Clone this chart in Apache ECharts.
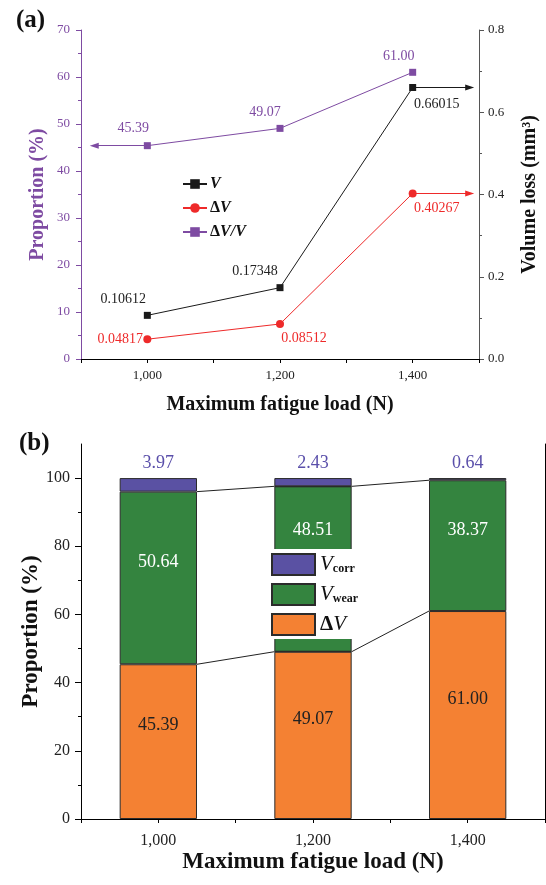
<!DOCTYPE html>
<html>
<head>
<meta charset="utf-8">
<script src="https://cdn.jsdelivr.net/npm/echarts@6/dist/echarts.min.js"></script>
<style>
  html, body { margin: 0; padding: 0; background: #fff; }
  #chart { width: 546px; height: 885px; }
</style>
</head>
<body>
<div id="chart"></div>
<script>
// ---- data ----
// Maximum fatigue load (N)
const loads = [1000, 1200, 1400];

// (a) volume loss (mm^3)
const volumeV = [0.10612, 0.17348, 0.66015];
const volumeDeltaV = [0.04817, 0.08512, 0.40267];
// (a) ΔV / V proportion (%)
const ratioDeltaV = [45.39, 49.07, 61.00];

// (b) composition of the total loss (%)
const shareDeltaV = [45.39, 49.07, 61.00];
const shareWear = [50.64, 48.51, 38.37];
const shareCorr = [3.97, 2.43, 0.64];

// tick values
const loadTickLabels = [1000, 1200, 1400];
const loadTicks = [900, 1000, 1100, 1200, 1300, 1400, 1500];
const propMajorB = [0, 20, 40, 60, 80, 100];
const propMinorB = [10, 30, 50, 70, 90];

// ---- styling / layout ----
const SERIF = '"Liberation Serif", "Times New Roman", serif';
const PURPLE = '#7E4BA2';
const RED = '#EE2A2A';
const BLACK = '#1a1a1a';
const BAR_ORANGE = '#F48133';
const BAR_GREEN = '#34843F';
const BAR_PURPLE = '#5A51A3';
const LABEL_PURPLE = '#5A4FAA';
const X_MIN = 900, X_MAX = 1500;
const ARROW_RIGHT = 1486, ARROW_LEFT = 920;
const BAR_HALF = 50;

// label offsets (px) for the point labels in (a)
const offV = [[-24, -16], [-25, -16], [24, 17]];
const offDV = [[-27, 0], [24, 14], [24, 15]];
const offRatio = [[-14, -17], [-15, -16], [-14, -16]];
// label offsets (px) for the bar labels in (b)
const offWear = [[0, -16], [0, -39], [0, -15]];

const fmtLoad = v => String(v).replace(/\B(?=(\d{3})+(?!\d))/g, ',');

function pointData(ys, offs) {
  return loads.map((x, i) => ({ value: [x, ys[i]], label: { offset: offs[i] } }));
}

function arrowLine(color, from, to) {
  return {
    silent: true,
    symbol: ['none', 'triangle'],
    symbolSize: [6, 9],
    lineStyle: { color: color, width: 1, type: 'solid' },
    label: { show: false },
    emphasis: { disabled: true },
    data: [[{ coord: from }, { coord: to }]]
  };
}

// cumulative tops of the stacked segments, used for the connector lines
const topDeltaV = shareDeltaV.slice();
const topWear = shareDeltaV.map((v, i) => v + shareWear[i]);
function connector(tops) {
  const pts = [];
  loads.forEach((x, i) => {
    pts.push([x - BAR_HALF, tops[i]]);
    pts.push([x + BAR_HALF, tops[i]]);
  });
  return pts.slice(1, -1);
}

const tickLabel = (color, size, margin) => ({
  color: color, fontSize: size, fontFamily: SERIF, margin: margin
});

const option = {
  backgroundColor: '#fff',
  animation: false,
  textStyle: { fontFamily: SERIF },
  grid: [
    { left: 81, right: 67, top: 30, height: 329, outerBoundsMode: 'none' },
    { left: 81, right: 1, top: 444, height: 375, outerBoundsMode: 'none' }
  ],
  graphic: [
    { type: 'text', left: 16, top: 8, style: { text: '(a)', font: 'bold 25px ' + SERIF, fill: '#111' } },
    { type: 'text', left: 19, top: 431, style: { text: '(b)', font: 'bold 25px ' + SERIF, fill: '#111' } }
  ],
  legend: [
    {
      data: ['V', 'ΔV', 'ΔV/V'],
      orient: 'vertical',
      left: 182, top: 176,
      itemWidth: 24, itemHeight: 12, itemGap: 8,
      padding: 0,
      selectedMode: false,
      formatter: name => ({ 'V': '{bi|V}', 'ΔV': '{b|Δ}{bi|V}', 'ΔV/V': '{b|Δ}{bi|V/V}' })[name],
      textStyle: {
        padding: [0, 0, 0, -2],
        rich: {
          b: { fontFamily: SERIF, fontWeight: 'bold', fontSize: 16, color: '#111' },
          bi: { fontFamily: SERIF, fontWeight: 'bold', fontStyle: 'italic', fontSize: 16, color: '#111' }
        }
      }
    },
    {
      data: ['Vcorr', 'Vwear', 'ΔVshare'],
      orient: 'vertical',
      left: 265, top: 549,
      icon: 'rect',
      itemWidth: 43, itemHeight: 21, itemGap: 7,
      padding: [4, 10, 3, 6],
      backgroundColor: '#fff',
      selectedMode: false,
      formatter: name => ({ 'Vcorr': '{v|V}{s|corr}', 'Vwear': '{v|V}{s|wear}', 'ΔVshare': '{d|Δ}{v|V}' })[name],
      textStyle: {
        rich: {
          v: { fontFamily: SERIF, fontStyle: 'italic', fontSize: 21, lineHeight: 21, color: '#111' },
          d: { fontFamily: SERIF, fontWeight: 'bold', fontSize: 21, lineHeight: 21, color: '#111' },
          s: { fontFamily: SERIF, fontWeight: 'bold', fontSize: 12, lineHeight: 10, verticalAlign: 'bottom', color: '#111' }
        }
      }
    }
  ],
  xAxis: [
    { // (a) load axis
      type: 'value', gridIndex: 0, min: X_MIN, max: X_MAX, interval: 100, position: 'bottom',
      axisLine: { lineStyle: { color: '#000', width: 1 } },
      axisTick: { length: 4, customValues: loadTicks, lineStyle: { color: '#000' } },
      axisLabel: Object.assign(tickLabel('#222', 13, 10), { customValues: loadTickLabels, formatter: fmtLoad }),
      splitLine: { show: false },
      name: 'Maximum fatigue load (N)', nameLocation: 'middle', nameGap: 36, nameMoveOverlap: false,
      nameTextStyle: { fontFamily: SERIF, fontWeight: 'bold', fontSize: 20, color: '#111' }
    },
    { // (a) top frame
      type: 'value', gridIndex: 0, min: X_MIN, max: X_MAX, position: 'top',
      axisLine: { lineStyle: { color: '#000', width: 1 } },
      axisTick: { show: false }, axisLabel: { show: false }, splitLine: { show: false }
    },
    { // (b) load axis
      type: 'value', gridIndex: 1, min: X_MIN, max: X_MAX, interval: 100, position: 'bottom',
      axisLine: { lineStyle: { color: '#000', width: 1 } },
      axisTick: { length: 4, customValues: loadTicks, lineStyle: { color: '#000' } },
      axisLabel: Object.assign(tickLabel('#222', 16, 14), { customValues: loadTickLabels, formatter: fmtLoad }),
      splitLine: { show: false },
      name: 'Maximum fatigue load (N)', nameLocation: 'middle', nameGap: 32, nameMoveOverlap: false,
      nameTextStyle: { fontFamily: SERIF, fontWeight: 'bold', fontSize: 23, color: '#111' }
    },
    { // (b) top frame
      type: 'value', gridIndex: 1, min: X_MIN, max: X_MAX, position: 'top',
      axisLine: { lineStyle: { color: '#000', width: 1 } },
      axisTick: { show: false }, axisLabel: { show: false }, splitLine: { show: false }
    },
    { // (b) band axis carrying the stacked bars
      type: 'category', gridIndex: 1, data: loads.map(String), position: 'bottom',
      boundaryGap: true, show: false
    }
  ],
  yAxis: [
    { // (a) proportion (%)
      type: 'value', gridIndex: 0, min: 0, max: 70, interval: 10, position: 'left',
      axisLine: { show: true, lineStyle: { color: PURPLE, width: 1 } },
      axisTick: { show: true, length: 5, lineStyle: { color: PURPLE } },
      minorTick: { show: true, splitNumber: 2, length: 3, lineStyle: { color: PURPLE } },
      axisLabel: tickLabel(PURPLE, 13, 11),
      splitLine: { show: false },
      name: 'Proportion (%)', nameLocation: 'middle', nameRotate: 90, nameGap: 33, nameMoveOverlap: false,
      nameTextStyle: { fontFamily: SERIF, fontWeight: 'bold', fontSize: 20, color: PURPLE }
    },
    { // (a) volume loss
      type: 'value', gridIndex: 0, min: 0, max: 0.8, interval: 0.2, position: 'right',
      axisLine: { show: true, lineStyle: { color: '#555', width: 1 } },
      axisTick: { show: true, length: 5, lineStyle: { color: '#555' } },
      minorTick: { show: true, splitNumber: 2, length: 3, lineStyle: { color: '#555' } },
      axisLabel: Object.assign(tickLabel('#222', 13, 9), { formatter: v => v.toFixed(1) }),
      splitLine: { show: false },
      name: 'Volume loss (mm³)', nameLocation: 'middle', nameRotate: 90, nameGap: 41, nameMoveOverlap: false,
      nameTextStyle: { fontFamily: SERIF, fontWeight: 'bold', fontSize: 20, color: '#111' }
    },
    { // (b) proportion (%)
      type: 'value', gridIndex: 1, min: 0, max: 110, interval: 10, position: 'left',
      axisLine: { show: true, lineStyle: { color: '#000', width: 1 } },
      axisTick: { show: true, length: 6, customValues: propMajorB, lineStyle: { color: '#000' } },
      axisLabel: Object.assign(tickLabel('#222', 16, 11), { customValues: propMajorB }),
      splitLine: { show: false },
      name: 'Proportion (%)', nameLocation: 'middle', nameRotate: 90, nameGap: 38, nameMoveOverlap: false,
      nameTextStyle: { fontFamily: SERIF, fontWeight: 'bold', fontSize: 23, color: '#111' }
    },
    { // (b) minor ticks
      type: 'value', gridIndex: 1, min: 0, max: 110, interval: 10, position: 'left',
      axisLine: { show: false },
      axisTick: { show: true, length: 3, customValues: propMinorB, lineStyle: { color: '#000' } },
      axisLabel: { show: false }, splitLine: { show: false }
    },
    { // (b) right frame
      type: 'value', gridIndex: 1, min: 0, max: 110, position: 'right',
      axisLine: { show: true, lineStyle: { color: '#000', width: 1 } },
      axisTick: { show: false }, axisLabel: { show: false }, splitLine: { show: false }
    }
  ],
  series: [
    {
      name: 'V', type: 'line', xAxisIndex: 0, yAxisIndex: 1,
      data: pointData(volumeV, offV),
      symbol: 'rect', symbolSize: 7,
      itemStyle: { color: BLACK }, lineStyle: { color: BLACK, width: 1 },
      label: {
        show: true, position: 'inside', color: '#222', fontSize: 14, fontFamily: SERIF,
        formatter: p => volumeV[p.dataIndex].toFixed(5)
      },
      markLine: arrowLine(BLACK, [loads[2], volumeV[2]], [ARROW_RIGHT, volumeV[2]]),
      z: 4
    },
    {
      name: 'ΔV', type: 'line', xAxisIndex: 0, yAxisIndex: 1,
      data: pointData(volumeDeltaV, offDV),
      symbol: 'circle', symbolSize: 8,
      itemStyle: { color: RED }, lineStyle: { color: RED, width: 1 },
      label: {
        show: true, position: 'inside', color: RED, fontSize: 14, fontFamily: SERIF,
        formatter: p => volumeDeltaV[p.dataIndex].toFixed(5)
      },
      markLine: arrowLine(RED, [loads[2], volumeDeltaV[2]], [ARROW_RIGHT, volumeDeltaV[2]]),
      z: 4
    },
    {
      name: 'ΔV/V', type: 'line', xAxisIndex: 0, yAxisIndex: 0,
      data: pointData(ratioDeltaV, offRatio),
      symbol: 'rect', symbolSize: 7,
      itemStyle: { color: PURPLE }, lineStyle: { color: PURPLE, width: 1 },
      label: {
        show: true, position: 'inside', color: PURPLE, fontSize: 14, fontFamily: SERIF,
        formatter: p => ratioDeltaV[p.dataIndex].toFixed(2)
      },
      markLine: arrowLine(PURPLE, [loads[0], ratioDeltaV[0]], [ARROW_LEFT, ratioDeltaV[0]]),
      z: 4
    },
    {
      name: 'ΔVshare', type: 'bar', xAxisIndex: 4, yAxisIndex: 2, stack: 'total',
      data: shareDeltaV, barWidth: '50%',
      itemStyle: { color: BAR_ORANGE, borderColor: '#2b2b2b', borderWidth: 1 },
      label: {
        show: true, position: 'inside', offset: [0, -16], color: '#222', fontSize: 18, fontFamily: SERIF,
        formatter: p => shareDeltaV[p.dataIndex].toFixed(2)
      }
    },
    {
      name: 'Vwear', type: 'bar', xAxisIndex: 4, yAxisIndex: 2, stack: 'total',
      data: shareWear.map((v, i) => ({ value: v, label: { offset: offWear[i] } })), barWidth: '50%',
      itemStyle: { color: BAR_GREEN, borderColor: '#2b2b2b', borderWidth: 1 },
      label: {
        show: true, position: 'inside', color: '#fff', fontSize: 18, fontFamily: SERIF,
        formatter: p => shareWear[p.dataIndex].toFixed(2)
      }
    },
    {
      name: 'Vcorr', type: 'bar', xAxisIndex: 4, yAxisIndex: 2, stack: 'total',
      data: shareCorr, barWidth: '50%',
      itemStyle: { color: BAR_PURPLE, borderColor: '#2b2b2b', borderWidth: 1 },
      label: {
        show: true, position: 'top', distance: 6, color: LABEL_PURPLE, fontSize: 18, fontFamily: SERIF,
        formatter: p => shareCorr[p.dataIndex].toFixed(2)
      }
    },
    {
      name: 'link-dv', type: 'line', xAxisIndex: 2, yAxisIndex: 2,
      data: connector(topDeltaV), symbol: 'none', silent: true,
      lineStyle: { color: '#222', width: 1 }, z: 3
    },
    {
      name: 'link-wear', type: 'line', xAxisIndex: 2, yAxisIndex: 2,
      data: connector(topWear), symbol: 'none', silent: true,
      lineStyle: { color: '#222', width: 1 }, z: 3
    }
  ]
};

const chart = echarts.init(document.getElementById('chart'), null, { renderer: 'canvas' });
chart.setOption(option);
</script>
</body>
</html>
